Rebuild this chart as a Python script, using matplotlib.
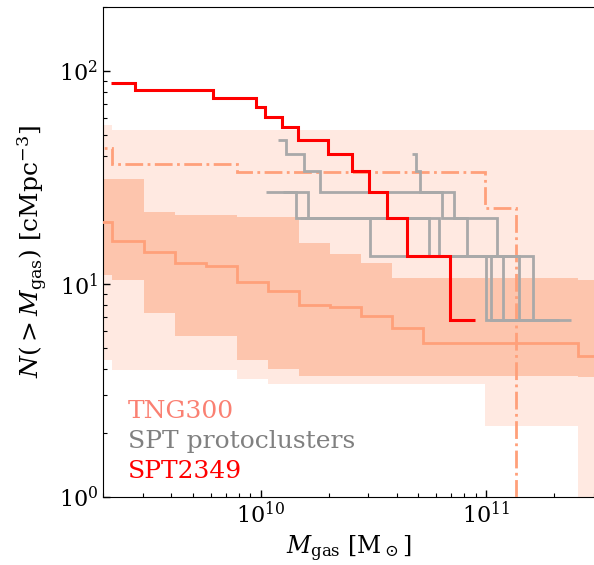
import numpy as np
import matplotlib
matplotlib.use("Agg")
import matplotlib.pyplot as plt

plt.rcParams['font.family'] = 'serif'
plt.rcParams['font.serif'] = ['DejaVu Serif']
plt.rcParams['mathtext.fontset'] = 'dejavuserif'

# TNG300 cumulative gas-mass function, binned (log10 Mgas bin edges)
tng_log_edges = [9.206, 9.343, 9.481, 9.618, 9.756, 9.893, 10.031, 10.169, 10.306,
                 10.444, 10.581, 10.719, 10.857, 10.994, 11.132, 11.270, 11.407, 11.545]
tng_median = [19.5, 15.9, 14.1, 12.5, 12.1, 10.2, 9.3, 8.0, 7.8, 7.1, 6.2,
              5.3, 5.3, 5.3, 5.3, 5.3, 4.6]
tng_p84 = [31.0, 31.0, 21.7, 21.2, 21.2, 20.7, 20.7, 15.6, 13.9, 12.5, 10.7,
           10.7, 10.7, 10.7, 10.7, 10.7, 10.4]
tng_p16 = [11.0, 10.5, 7.3, 5.7, 5.7, 4.4, 4.0, 3.7, 3.7, 3.7, 3.7,
           3.7, 3.7, 3.7, 3.7, 3.7, 3.65]
tng_p97 = [56.0, 53.1, 53.1, 53.1, 53.1, 53.1, 53.1, 53.1, 53.1, 53.1, 53.1,
           53.1, 53.1, 53.1, 53.1, 53.1, 53.1]
tng_p03 = [4.4, 3.94, 3.94, 3.94, 3.94, 3.6, 3.38, 3.38, 3.38, 3.38, 3.38,
           3.38, 3.38, 2.15, 2.15, 2.15, 1e-3]
tng_max = [43.5, 36.7, 36.7, 36.7, 36.7, 33.5, 33.5, 33.5, 33.5, 33.5, 33.5,
           33.5, 33.5, 22.7, 1e-3, 1e-3, 1e-3]

# SPT2349 (edges = galaxy gas masses, values = N(>M) in cMpc^-3)
spt2349_mass = [2.18e9, 2.76e9, 6.13e9, 9.50e9, 1.05e10, 1.24e10, 1.47e10, 1.98e10,
                2.55e10, 3.01e10, 3.62e10, 4.44e10, 6.91e10, 8.94e10]
spt2349_n = [88.4, 81.6, 74.8, 68.0, 61.2, 54.4, 47.6, 40.8, 34.0, 27.2, 20.4, 13.6, 6.8]

# other SPT protoclusters
proto_a_mass = [1.19e10, 1.29e10, 1.55e10, 1.84e10, 6.37e10, 8.18e10, 1.40e11, 2.37e11]
proto_a_n = [47.6, 40.8, 34.0, 27.2, 20.4, 13.6, 6.8]
proto_b_mass = [4.69e10, 4.89e10, 5.09e10, 7.22e10, 1.12e11, 1.61e11, 2.10e11]
proto_b_n = [40.8, 34.0, 27.2, 20.4, 13.6, 6.8]
proto_c_mass = [1.06e10, 1.44e10, 3.06e10, 9.97e10, 1.72e11]
proto_c_n = [27.2, 20.4, 13.6, 6.8]
proto_d_mass = [1.25e10, 1.62e10, 5.59e10, 1.05e11, 1.90e11]
proto_d_n = [27.2, 20.4, 13.6, 6.8]
proto_e_mass = [1.49e10, 6.15e10, 1.18e11, 1.55e11]
proto_e_n = [20.4, 13.6, 6.8]

fig = plt.figure(figsize=(5.94, 5.65), dpi=100)
ax = fig.add_axes([103 / 594, 68 / 565, 491 / 594, 490 / 565])

edges = 10 ** np.array(tng_log_edges)

def step_fill(lo, hi, color, z):
    lo = np.append(lo, lo[-1])
    hi = np.append(hi, hi[-1])
    ax.fill_between(edges, lo, hi, step='post', color=color, lw=0, zorder=z)

# TNG300 bands, median and max
step_fill(tng_p03, tng_p97, '#ffe9e1', 1)
step_fill(tng_p16, tng_p84, '#fdc5ad', 2)
ax.stairs(tng_median, edges, baseline=None, color='lightsalmon', lw=2, zorder=3)
ax.stairs(tng_max, edges, baseline=None, color='lightsalmon', lw=2,
          linestyle='-.', zorder=3)

# SPT protoclusters
for m, n in [(proto_a_mass, proto_a_n), (proto_b_mass, proto_b_n),
             (proto_c_mass, proto_c_n), (proto_d_mass, proto_d_n),
             (proto_e_mass, proto_e_n)]:
    ax.stairs(n, m, baseline=None, color='darkgray', lw=2, zorder=4)

# SPT2349
ax.stairs(spt2349_n, spt2349_mass, baseline=None, color='red', lw=2.2, zorder=5)

ax.set_xscale('log')
ax.set_yscale('log')
ax.set_xlim(2e9, 3e11)
ax.set_ylim(1, 200)
ax.spines['right'].set_visible(False)
ax.tick_params(which='both', direction='in', top=False, right=False, labelsize=16)
ax.tick_params(which='major', length=5, width=1)
ax.tick_params(which='minor', length=3, width=0.8)

ax.set_xlabel(r'$M_{\rm gas}$ [M$_\odot$]', fontsize=17)
ax.set_ylabel(r'$N(>M_{\rm gas})$ [cMpc$^{-3}$]', fontsize=18, labelpad=6)

ax.text(0.051, 0.161, 'TNG300', color='salmon', fontsize=18, transform=ax.transAxes)
ax.text(0.051, 0.099, 'SPT protoclusters', color='gray', fontsize=18, transform=ax.transAxes)
ax.text(0.051, 0.038, 'SPT2349', color='red', fontsize=18, transform=ax.transAxes)

fig.savefig('out.png', dpi=100)
